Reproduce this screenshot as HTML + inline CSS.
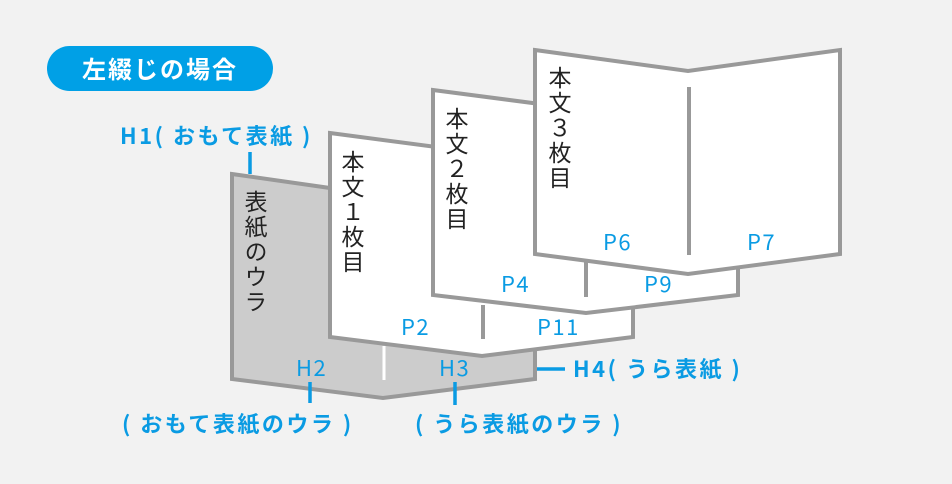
<!DOCTYPE html>
<html><head><meta charset="utf-8"><style>
html,body{margin:0;padding:0;background:#f2f2f2;}
svg{display:block;}
text{font-family:"Liberation Sans","Noto Sans CJK JP",sans-serif;}
.b{fill:#0a9be3;font-family:"Noto Sans CJK JP",sans-serif;font-weight:bold;font-size:22px;letter-spacing:2.5px;}
.p{fill:#0a9be3;font-family:"Noto Sans CJK JP",sans-serif;font-size:22px;letter-spacing:1.5px;}
.v{fill:#222;font-family:"Noto Sans CJK JP",sans-serif;font-size:23px;letter-spacing:2px;writing-mode:vertical-rl;}
</style></head><body>
<svg width="952" height="484" viewBox="0 0 952 484" xmlns="http://www.w3.org/2000/svg">
<rect width="952" height="484" fill="#f2f2f2"/>
<rect x="47" y="46" width="226" height="45" rx="22.5" fill="#00a0e6"/>
<text x="160" y="78" text-anchor="middle" style="font-family:'Noto Sans CJK JP',sans-serif;font-weight:bold;font-size:24px;letter-spacing:2px;fill:#fff">左綴じの場合</text>
<g stroke="#999" stroke-width="4" stroke-linejoin="miter">
<polygon points="232,174 330,188 330,330 535,330 535,379 383,398 232,379" fill="#cccccc"/>
<line x1="384" y1="346" x2="384" y2="380" stroke="#fff" stroke-width="3"/>
<polygon points="330,133 482,153 633,133 633,337 482,356 330,337" fill="#fff"/>
<line x1="483" y1="305" x2="483" y2="339"/>
<polygon points="433,90 586,110 738,90 738,295 586,313 433,295" fill="#fff"/>
<line x1="586" y1="262" x2="586" y2="297"/>
<polygon points="535,50 688,71 840,50 840,254 688,274 535,254" fill="#fff"/>
<line x1="689" y1="87" x2="689" y2="255"/>
</g>
<g stroke="#0a9be3" stroke-width="3.5">
<line x1="250" y1="152" x2="250" y2="174"/>
<line x1="310" y1="382" x2="310" y2="403"/>
<line x1="455" y1="382" x2="455" y2="405"/>
<line x1="537" y1="369" x2="565" y2="369"/>
</g>
<text class="v" x="256" y="190">表紙のウラ</text>
<text class="v" x="353" y="150">本文１枚目</text>
<text class="v" x="457" y="107">本文２枚目</text>
<text class="v" x="560" y="66">本文３枚目</text>
<text class="p" x="401" y="335">P2</text>
<text class="p" x="537" y="335">P11</text>
<text class="p" x="501" y="292">P4</text>
<text class="p" x="644" y="292">P9</text>
<text class="p" x="603" y="250">P6</text>
<text class="p" x="747" y="250">P7</text>
<text class="p" x="296" y="376">H2</text>
<text class="p" x="439" y="376">H3</text>
<text class="b" x="120" y="144">H1( おもて表紙 )</text>
<text class="b" x="573" y="377">H4( うら表紙 )</text>
<text class="b" x="122" y="432">( おもて表紙のウラ )</text>
<text class="b" x="415" y="432">( うら表紙のウラ )</text>
</svg>
</body></html>
